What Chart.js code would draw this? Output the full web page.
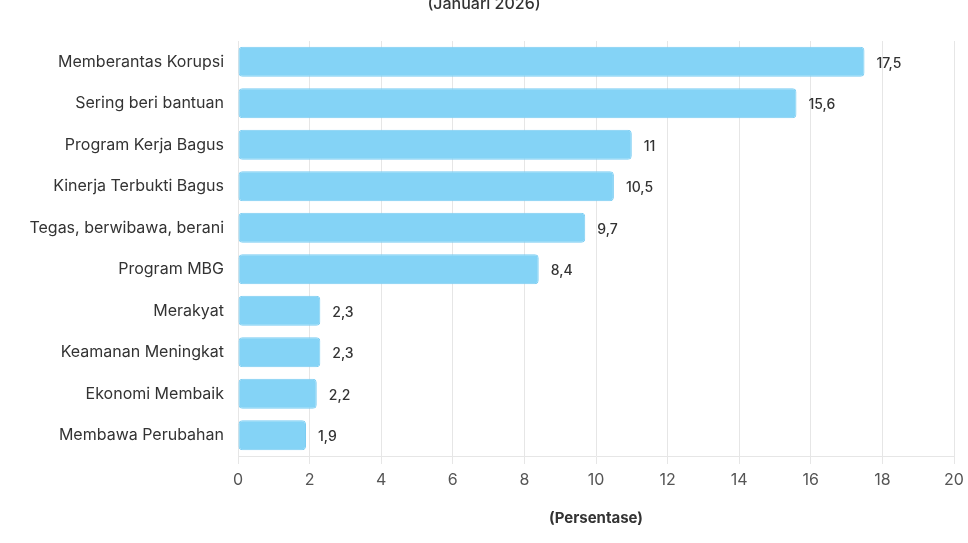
<!DOCTYPE html>
<html>
<head>
<meta charset="utf-8">
<script src="https://cdn.jsdelivr.net/npm/chart.js@4/dist/chart.umd.min.js"></script>
<style>
  html, body { margin: 0; padding: 0; background: #fff; }
  #wrap { width: 968px; height: 543px; }
</style>
</head>
<body>
<div id="wrap"><canvas id="chart"></canvas></div>
<script>
const categories = [
  "Memberantas Korupsi",
  "Sering beri bantuan",
  "Program Kerja Bagus",
  "Kinerja Terbukti Bagus",
  "Tegas, berwibawa, berani",
  "Program MBG",
  "Merakyat",
  "Keamanan Meningkat",
  "Ekonomi Membaik",
  "Membawa Perubahan"
];
const values = [17.5, 15.6, 11, 10.5, 9.7, 8.4, 2.3, 2.3, 2.2, 1.9];
const xTicks = [0, 2, 4, 6, 8, 10, 12, 14, 16, 18, 20];
const subtitle = "(Januari 2026)";
const axisTitle = "(Persentase)";

const fontFamily = "Inter, sans-serif";
const textColor = "#333333";

// value labels at the end of each bar, comma as decimal mark
const valueLabels = {
  id: "valueLabels",
  afterDatasetsDraw(chart) {
    const ctx = chart.ctx;
    const meta = chart.getDatasetMeta(0);
    ctx.save();
    ctx.font = "500 14px " + fontFamily;
    ctx.fillStyle = textColor;
    ctx.textAlign = "left";
    ctx.textBaseline = "middle";
    meta.data.forEach((bar, i) => {
      const txt = String(values[i]).replace(".", ",");
      ctx.fillText(txt, bar.x + 12, bar.y + 2);
    });
    ctx.restore();
  }
};

// cut-off subtitle at the very top
const topText = {
  id: "topText",
  afterDraw(chart) {
    const ctx = chart.ctx;
    ctx.save();
    ctx.font = "500 16px " + fontFamily;
    ctx.fillStyle = textColor;
    ctx.textAlign = "center";
    ctx.textBaseline = "middle";
    ctx.fillText(subtitle, 484, 4);
    ctx.restore();
  }
};

new Chart(document.getElementById("chart"), {
  type: "bar",
  plugins: [valueLabels, topText],
  data: {
    labels: categories,
    datasets: [{
      data: values,
      backgroundColor: "#84d3f6",
      borderColor: "#7ccdf2",
      borderWidth: 1,
      borderRadius: 4,
      borderSkipped: false,
      barPercentage: 0.8,
      categoryPercentage: 0.9
    }]
  },
  options: {
    indexAxis: "y",
    responsive: true,
    maintainAspectRatio: false,
    animation: false,
    layout: { padding: { top: 41, right: 14, bottom: 12, left: 0 } },
    plugins: {
      legend: { display: false },
      tooltip: { enabled: false }
    },
    scales: {
      x: {
        min: 0,
        max: 20,
        afterBuildTicks: (scale) => { scale.ticks = xTicks.map(v => ({ value: v })); },
        afterFit: (scale) => {
          scale.height = 75;
          scale.paddingLeft = 0;
          scale.paddingRight = 0;
        },
        grid: { color: "#e6e6e6", tickLength: 8 },
        border: { color: "#e6e6e6" },
        ticks: {
          padding: 7,
          color: "#555555",
          font: { family: fontFamily, size: 16 }
        },
        title: {
          display: true,
          text: axisTitle,
          color: textColor,
          font: { family: fontFamily, size: 15, weight: "bold" },
          padding: { top: 4, bottom: 4 }
        }
      },
      y: {
        afterFit: (scale) => { scale.width = 238; },
        grid: { display: false },
        border: { display: false },
        ticks: {
          padding: 6,
          color: textColor,
          font: { family: fontFamily, size: 16 }
        }
      }
    }
  }
});
</script>
</body>
</html>
